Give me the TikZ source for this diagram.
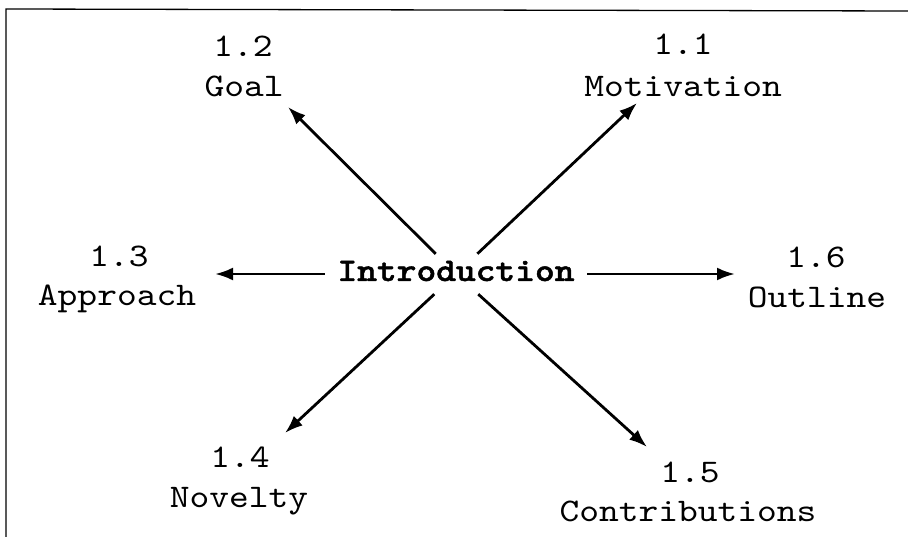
\documentclass[tikz,border=0pt]{standalone}
\usepackage{fontspec}
\newfontfamily\courr{lmmono10-regular.otf}[FakeStretch=1.14]
\newfontfamily\courb{lmmonolt10-bold.otf}[FakeStretch=1.14,FakeBold=1.5]
\usetikzlibrary{arrows.meta}
\begin{document}
\begin{tikzpicture}[x=1pt,y=-1pt,
  lbl/.style={font=\courr\fontsize{33}{40}\selectfont, anchor=base, inner sep=0pt},
  arr/.style={line width=2.8pt, -{Latex[length=18pt,width=13pt]}},
  frameline/.style={line width=1.3pt}]
\useasboundingbox (0,0) rectangle (908,537);
\draw[frameline] (6,537) -- (6,9) -- (908,11);

\node[font=\courb\fontsize{33}{40}\selectfont, minimum width=262pt,
      text height=27pt, text depth=13pt, inner ysep=0pt, inner xsep=0pt] (intro) at (456,274) {Introduction};

\node[lbl] (n11) at (683,55) {1.1};
\node[lbl] (l11) at (683,97) {Motivation};
\node[lbl] (n12) at (243,57) {1.2};
\node[lbl] (l12) at (244,97) {Goal};
\node[lbl] (n13) at (119,267) {1.3};
\node[lbl] (l13) at (117,306) {Approach};
\node[lbl] (n14) at (240,467) {1.4};
\node[lbl] (l14) at (239,507) {Novelty};
\node[lbl] (n15) at (690,482) {1.5};
\node[lbl] (l15) at (688,521) {Contributions};
\node[lbl] (n16) at (816,268) {1.6};
\node[lbl] (l16) at (817,308) {Outline};

\coordinate (tM) at (637,103);
\coordinate (tG) at (288,107);
\coordinate (tA) at (215,274);
\coordinate (tN) at (285,433);
\coordinate (tC) at (647,447);
\coordinate (tO) at (735,274);

\draw[arr] (intro) -- (tM);
\draw[arr] (intro) -- (tG);
\draw[arr] (intro) -- (tA);
\draw[arr] (intro) -- (tN);
\draw[arr] (intro) -- (tC);
\draw[arr] (intro) -- (tO);
\end{tikzpicture}
\end{document}
